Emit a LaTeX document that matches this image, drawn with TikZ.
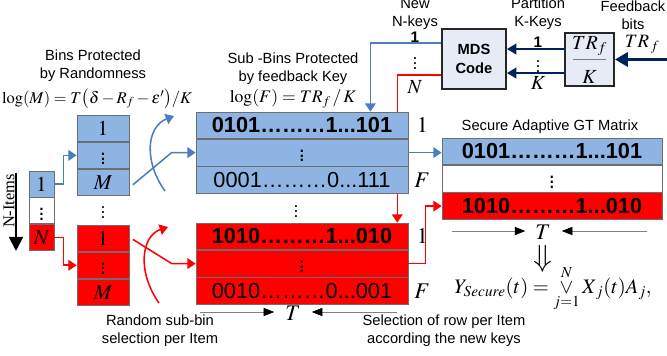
\documentclass[tikz,border=0pt]{standalone}
\usepackage{amsmath}
\usepackage{mathptmx}
\usepackage[no-math]{fontspec}
\setmainfont{Liberation Sans}
\newfontfamily\timesfont{Liberation Serif}
\usetikzlibrary{positioning,arrows.meta}
\definecolor{binblue}{RGB}{142,180,227}
\definecolor{binred}{RGB}{255,0,0}
\definecolor{lineblue}{RGB}{74,126,193}
\definecolor{navy}{RGB}{0,32,96}
\definecolor{boxgray}{RGB}{110,110,110}
\definecolor{codefill}{RGB}{230,235,245}
\tikzstyle{itemcell}=[draw=boxgray,line width=0.6pt,minimum width=21.3pt,minimum height=22.1pt,inner sep=0pt,font=\fontsize{18}{20}\selectfont]
\tikzstyle{bincell}=[draw=boxgray,line width=0.6pt,minimum width=44.2pt,minimum height=22.4pt,inner sep=0pt,font=\fontsize{18}{20}\selectfont]
\tikzstyle{subcell}=[draw=boxgray,line width=0.6pt,minimum width=180.2pt,minimum height=22.6pt,inner sep=0pt,font=\fontsize{18.5}{20}\selectfont]
\tikzstyle{gtcell}=[draw=boxgray,line width=0.6pt,minimum width=187pt,minimum height=22.7pt,inner sep=0pt,font=\fontsize{18.5}{20}\selectfont]
\tikzstyle{codebox}=[draw=black!85,line width=1.6pt,fill=codefill,inner sep=0pt]
\tikzstyle{lbl}=[font=\fontsize{12.5}{15.5}\selectfont,align=center,inner sep=0pt]
\tikzstyle{mth}=[font=\fontsize{15}{18}\selectfont,inner sep=0pt]
\tikzstyle{side}=[font=\fontsize{19}{20}\selectfont,inner sep=0pt]
\tikzstyle{bluearrow}=[line width=1.3pt,draw=lineblue,-{Triangle[length=7pt,width=9pt]}]
\tikzstyle{redarrow}=[line width=1.3pt,draw=binred,-{Triangle[length=7pt,width=9pt]}]
\tikzstyle{navyarrow}=[line width=1.5pt,draw=navy,-{Triangle[length=8pt,width=9pt]}]
\tikzstyle{tarrow}=[line width=0.6pt,draw=gray,-{Triangle[length=9pt,width=7pt,color=black]}]

\begin{document}
\begin{tikzpicture}[x=0.85pt,y=-0.85pt]
\useasboundingbox (0,0) rectangle (667,356);
	%Items
	\node[itemcell,fill=binblue] (I1) at (41.5,184) {$1$};
	\node[itemcell,fill=white,below=0pt of I1] (I2) {$\vdots$};
	\node[itemcell,fill=binred,below=0pt of I2] (IN) {$N$};
	\coordinate (NA) at (16,173);
	\coordinate (NB) at (16,251);
	\draw[line width=1.6pt,-{Triangle[length=12pt,width=12pt]}] (NA)--(NB);
	\node[rotate=90,inner sep=0pt,font=\timesfont\fontsize{14}{16}\selectfont] (NI) at (9,201) {N-Items};

	%Bins
	\node[lbl] (BT) at (93,66) {Bins Protected\\by Randomness};
	\node[mth,font=\fontsize{14}{16}\selectfont] (BF) at (97,99) {$\log(M)=T\bigl(\delta-R_f-\varepsilon'\bigr)/K$};
	\node[bincell,fill=binblue] (B1) at (103,128.3) {$1$};
	\node[bincell,fill=binblue,below=0pt of B1] (B2) {$\vdots$};
	\node[bincell,fill=binblue,below=0pt of B2] (BM) {$M$};
	\node[mth] (BD) at (103,209) {$\vdots$};
	\node[bincell,fill=binred] (R1) at (103,238.2) {$1$};
	\node[bincell,fill=binred,below=0pt of R1] (R2) {$\vdots$};
	\node[bincell,fill=binred,below=0pt of R2] (RM) {$M$};
	\draw[bluearrow] (I1.east) -- ++(9,0) |- (B2.west);
	\draw[redarrow] (IN.east) -- ++(9,0) |- (R2.west);

	%Sub-bins
	\node[lbl] (ST) at (293,69) {Sub -Bins Protected\\by feedback Key};
	\node[mth] (SF) at (293,99) {$\log(F)=TR_f\,/\,K$};
	\node[subcell,fill=binblue] (S1) at (302,125.3) {\textbf{0101………1...101}};
	\node[subcell,fill=binblue,below=0pt of S1] (S2) {$\vdots$};
	\node[subcell,fill=binblue,below=0pt of S2] (SF1) {0001………0...111};
	\node[mth] (SD) at (296,208) {$\vdots$};
	\node[subcell,fill=binred] (Q1) at (302,236.3) {\textbf{1010………1...010}};
	\node[subcell,fill=binred,below=0pt of Q1] (Q2) {$\vdots$};
	\node[subcell,fill=binred,below=0pt of Q2] (QF) {0010………0...001};
	\node[side,right=7pt of S1] {$1$};
	\node[side,right=5pt of SF1] {$F$};
	\node[side,right=7pt of Q1] {$1$};
	\node[side,right=5pt of QF] {$F$};
	\draw[bluearrow] ([shift={(3pt,-2pt)}]BM.east) -- ([xshift=-20.4pt]S2.west) -- (S2.west);
	\draw[redarrow] ([shift={(3pt,-1pt)}]R1.east) -- ([xshift=-20.4pt]Q2.west) -- (Q2.west);
	\draw[bluearrow] (165,191) .. controls (144,162) and (146,127) .. (174,116);
	\draw[redarrow] (159,303) .. controls (137,272) and (141,236) .. (168,227);
	\node[side] (TS) at (293,313) {$T$};
	\coordinate (TSL) at (200,312);
	\coordinate (TSR) at (397,312);
	\draw[tarrow] (TSL) -- ([xshift=-16pt,yshift=0.85pt]TS.center);
	\draw[tarrow] (TSR) -- ([xshift=16pt,yshift=0.85pt]TS.center);
	\node[lbl] (RT) at (160,331) {Random sub-bin\\selection per Item};
	\node[lbl] (LT) at (444,331) {Selection of row per Item\\according the new keys};

	%MDS code and feedback
	\node[codebox,minimum width=54.4pt,minimum height=51pt,align=center,font=\bfseries\fontsize{12.5}{15.5}\selectfont] (MDS) at (474,59) {MDS\\Code};
	\node[codebox,minimum width=41.7pt,minimum height=45pt] (TR) at (589.5,59.5) {};
	\node[mth,font=\fontsize{17}{20}\selectfont] (TRa) at (589.5,46) {$TR_f$};
	\node[mth,font=\fontsize{17}{20}\selectfont] (TRb) at (589.5,77) {$K$};
	\draw[gray,line width=1.2pt] ([xshift=-14pt]TR.center) -- ([xshift=14pt]TR.center);
	\coordinate (FB) at (668,59.5);
	\draw[line width=2.6pt,draw=navy,-{Triangle[length=11pt,width=12pt]}] (FB) -- (TR.east);
	\node[mth,font=\fontsize{16}{18}\selectfont] (TRin) at (642,44) {$TR_{\,f}$};
	\draw[navyarrow] ([yshift=8.9pt]TR.west) -- ([yshift=8.9pt]TR.west -| MDS.east);
	\draw[navyarrow] ([yshift=-11.5pt]TR.west) -- ([yshift=-11.5pt]TR.west -| MDS.east);
	\node[inner sep=0pt,font=\bfseries\fontsize{13}{15}\selectfont] (K1) at (538,42) {1};
	\node[mth] (KD) at (538,63) {$\vdots$};
	\node[mth,font=\fontsize{17}{20}\selectfont] (KK) at (538,83) {$K$};
	\node[inner sep=0pt,font=\bfseries\fontsize{13}{15}\selectfont] (N1) at (415,37) {1};
	\node[mth] (ND) at (415,60) {$\vdots$};
	\node[mth,font=\fontsize{17}{20}\selectfont] (NN) at (415,87) {$N$};
	\node[lbl,anchor=south] (NT) at (415,30) {New\\N-keys};
	\node[lbl,anchor=south] (PT) at (538,30) {Partition\\K-Keys};
	\node[lbl,anchor=south] (FT) at (633,30) {Feedback\\bits};
	\draw[line width=1.3pt,draw=binred] ([yshift=-13.6pt]MDS.west) -| ([xshift=-9.4pt]S1.north east);
	\draw[redarrow] ([xshift=-9.4pt]SF1.south east) -- ([xshift=-9.4pt]Q1.north east);
	\draw[bluearrow] ([yshift=13.6pt]MDS.west) -| ([xshift=-32.3pt]S1.north east);

	%Secure adaptive GT matrix
	\node[lbl] (GT) at (550,127) {Secure Adaptive GT Matrix};
	\node[gtcell,fill=binblue] (G1) at (552,151.3) {\textbf{0101………1...101}};
	\node[gtcell,fill=white,below=0pt of G1] (G2) {$\vdots$};
	\node[gtcell,fill=binred,below=0pt of G2] (G3) {\textbf{1010………1...010}};
	\draw[bluearrow] (S2.east) -- (S2.east -| G1.west);
	\draw[redarrow] (Q2.east) -- ++(17,0) |- (G3.west);
	\node[side] (TG) at (543,232) {$T$};
	\coordinate (TGL) at (452,231);
	\coordinate (TGR) at (647,231);
	\draw[tarrow] (TGL) -- ([xshift=-15pt,yshift=0.85pt]TG.center);
	\draw[tarrow] (TGR) -- ([xshift=16pt,yshift=0.85pt]TG.center);
	\node[inner sep=0pt,font=\fontsize{26}{28}\selectfont] (DA) at (543,259) {$\Downarrow$};
	\node[mth,font=\fontsize{17.5}{20}\selectfont] (Y) at (553,289) {$Y_{Secure}(t)=\mathop{\vee}\limits_{j=1}^{N} X_{\,j}(t)A_{j},$};
\end{tikzpicture}
\end{document}
